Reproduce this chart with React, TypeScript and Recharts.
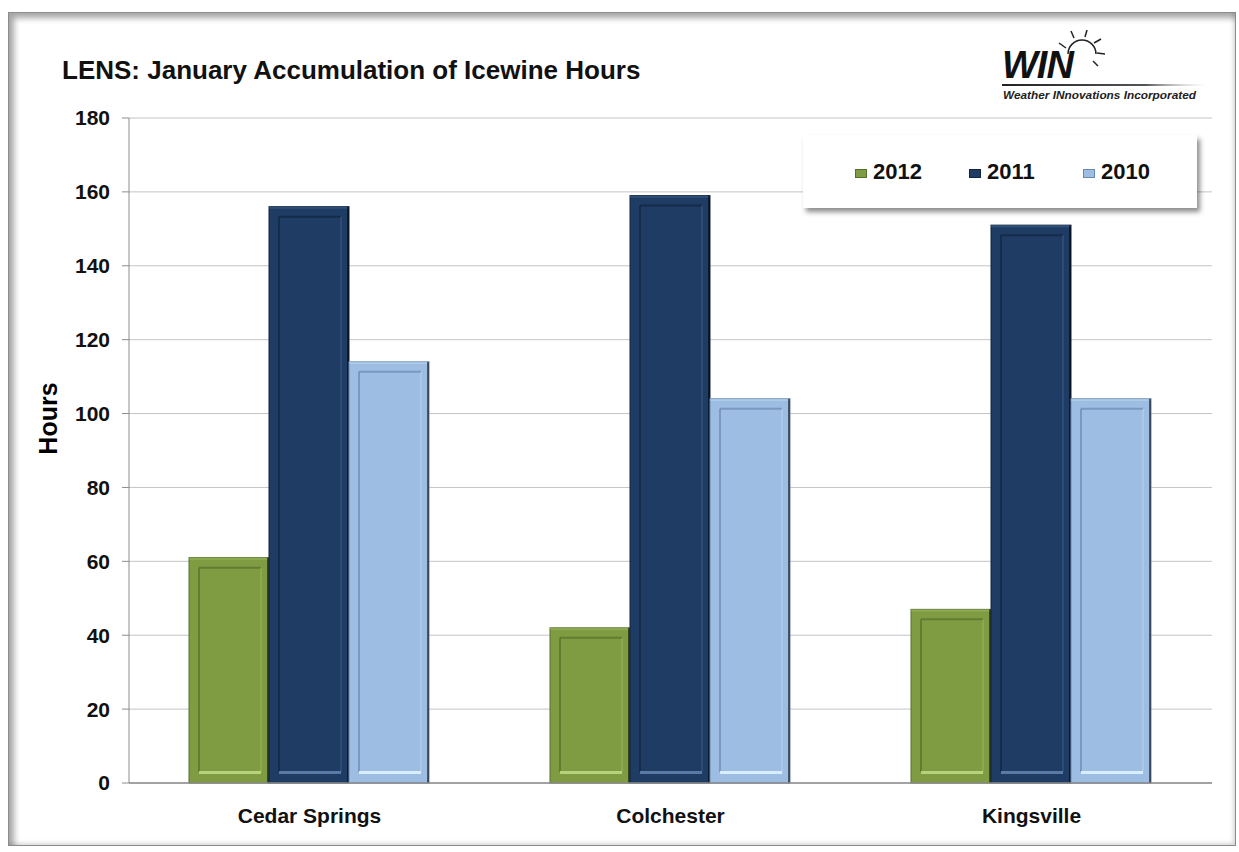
import { BarChart, Bar, XAxis, YAxis, CartesianGrid, Legend } from 'recharts';

// Icewine hours, January, per station
const categories = ['Cedar Springs', 'Colchester', 'Kingsville'];
const hours2012 = [61, 42, 47];
const hours2011 = [156, 159, 151];
const hours2010 = [114, 104, 104];
const yTicks = [0, 20, 40, 60, 80, 100, 120, 140, 160, 180];
const edgeTicks = [0, 1, 2, 3];

const data = categories.map((name, i) => ({
  name,
  y2012: hours2012[i],
  y2011: hours2011[i],
  y2010: hours2010[i],
}));

const series = [
  { key: 'y2012', label: '2012', base: '#809c43', dark: '#56702a', light: '#b6d27a' },
  { key: 'y2011', label: '2011', base: '#1f3c64', dark: '#10243f', light: '#5a7aa6' },
  { key: 'y2010', label: '2010', base: '#9dbde3', dark: '#6b89b0', light: '#d6eeff' },
];

const font = '"Liberation Sans", Arial, sans-serif';

type Series = (typeof series)[number];

function BevelBar(props: any) {
  const { x, y, width, height, s } = props as { x: number; y: number; width: number; height: number; s: Series };
  if (!height || height <= 0) return null;
  const ix = x + 10;
  const iy = y + 10;
  const iw = width - 18;
  const ih = height - 21;
  return (
    <g>
      <rect x={x} y={y} width={width} height={height} fill={s.base} stroke={s.dark} strokeWidth={1} />
      <line x1={ix} y1={iy} x2={ix} y2={iy + ih} stroke={s.dark} strokeWidth={2} strokeOpacity={0.7} />
      <line x1={ix} y1={iy} x2={ix + iw} y2={iy} stroke={s.dark} strokeWidth={2} strokeOpacity={0.7} />
      <line x1={ix + iw} y1={iy} x2={ix + iw} y2={iy + ih} stroke={s.light} strokeWidth={1} strokeOpacity={0.5} />
      <rect x={ix} y={iy + ih - 1} width={iw} height={3} fill={s.light} />
      <rect x={x} y={y} width={width} height={2} fill={s.light} fillOpacity={0.35} />
      <rect x={x + width - 2} y={y} width={2} height={height} fill="#000" fillOpacity={0.55} />
    </g>
  );
}

function LegendBox() {
  return (
    <div
      style={{
        width: 394,
        height: 73,
        background: '#fff',
        boxShadow: '3px 4px 5px rgba(0,0,0,0.45)',
        display: 'flex',
        alignItems: 'center',
        paddingLeft: 52,
        boxSizing: 'border-box',
        fontFamily: font,
      }}
    >
      {series.map((s) => (
        <div key={s.key} style={{ width: 117, display: 'flex', alignItems: 'center' }}>
          <span
            style={{
              display: 'inline-block',
              width: 12,
              height: 9,
              background: s.base,
              border: `1px solid ${s.dark}`,
              boxSizing: 'border-box',
              marginRight: 6,
              marginTop: 4,
            }}
          />
          <span style={{ fontSize: 22, fontWeight: 'bold', color: '#111' }}>{s.label}</span>
        </div>
      ))}
    </div>
  );
}

function Logo() {
  return (
    <svg width={230} height={82} style={{ position: 'absolute', left: 990, top: 30 }}>
      <defs>
        <linearGradient id="logoLine" x1="0" y1="0" x2="1" y2="0">
          <stop offset="0%" stopColor="#222" />
          <stop offset="70%" stopColor="#555" />
          <stop offset="100%" stopColor="#ccc" stopOpacity={0} />
        </linearGradient>
      </defs>
      <text x={12} y={48} fontFamily={font} fontSize={38} fontWeight="bold" fontStyle="italic" fill="#111" letterSpacing={-1}>
        WIN
      </text>
      <path d="M 78 24 A 14 14 0 0 1 106 24" fill="none" stroke="#222" strokeWidth={1.5} />
      <g stroke="#222" strokeWidth={1.5}>
        <line x1={76} y1={18} x2={69} y2={13} />
        <line x1={84} y1={8} x2={81} y2={1} />
        <line x1={95} y1={7} x2={97} y2={0} />
        <line x1={104} y1={13} x2={111} y2={9} />
        <line x1={107} y1={23} x2={115} y2={24} />
        <line x1={103} y1={31} x2={108} y2={36} />
      </g>
      <rect x={12} y={54} width={205} height={2} fill="url(#logoLine)" />
      <text x={13} y={69} fontFamily={font} fontSize={10.5} fontWeight="bold" fontStyle="italic" fill="#222" textLength={193} lengthAdjust="spacingAndGlyphs">
        Weather INnovations Incorporated
      </text>
    </svg>
  );
}

export default function App() {
  return (
    <div style={{ position: 'absolute', left: 0, top: 0, width: 1239, height: 852, background: '#fff', fontFamily: font }}>
      <div
        style={{
          position: 'absolute',
          left: 8,
          top: 12,
          width: 1228,
          height: 834,
          boxSizing: 'border-box',
          border: '1px solid #8c8c8c',
          boxShadow: 'inset 5px 5px 6px rgba(0,0,0,0.35), inset -2px -2px 4px rgba(0,0,0,0.15)',
        }}
      />
      <div style={{ position: 'absolute', left: 62, top: 57, fontSize: 26, lineHeight: '26px', fontWeight: 'bold', color: '#111' }}>
        LENS: January Accumulation of Icewine Hours
      </div>
      <Logo />
      <div style={{ position: 'absolute', left: 0, top: 0 }}>
        <BarChart
          width={1239}
          height={852}
          data={data}
          margin={{ top: 118, right: 27, left: 0, bottom: 0 }}
          barCategoryGap={60}
          barGap={0}
        >
          <CartesianGrid vertical={false} stroke="#c4c4c4" xAxisId="main" />
          <XAxis
            xAxisId="edge"
            type="number"
            domain={[0, 3]}
            ticks={edgeTicks}
            allowDataOverflow
            tick={false}
            tickSize={7}
            axisLine={false}
            height={0}
            stroke="#8c8c8c"
          />
          <XAxis
            xAxisId="main"
            dataKey="name"
            height={69}
            tickSize={0}
            tickMargin={25}
            tickLine={false}
            axisLine={{ stroke: '#8c8c8c', strokeWidth: 1.5 }}
            tick={{ fontSize: 21, fontWeight: 'bold', fill: '#111', fontFamily: font }}
          />
          <YAxis
            width={129}
            domain={[0, 180]}
            ticks={yTicks}
            interval={0}
            tickSize={7}
            tickMargin={12}
            stroke="#8c8c8c"
            tick={{ fontSize: 21, fontWeight: 'bold', fill: '#111', fontFamily: font }}
            label={{
              value: 'Hours',
              angle: -90,
              position: 'center',
              dx: -16,
              dy: -32,
              style: { fontSize: 25, fontWeight: 'bold', fill: '#000', fontFamily: font },
            }}
          />
          <Legend
            layout="vertical"
            align="center"
            verticalAlign="middle"
            wrapperStyle={{ left: 803, top: 135, width: 394, height: 73 }}
            content={() => <LegendBox />}
          />
          {series.map((s) => (
            <Bar
              key={s.key}
              xAxisId="main"
              dataKey={s.key}
              name={s.label}
              fill={s.base}
              isAnimationActive={false}
              shape={(p: any) => <BevelBar {...p} s={s} />}
            />
          ))}
        </BarChart>
      </div>
    </div>
  );
}
